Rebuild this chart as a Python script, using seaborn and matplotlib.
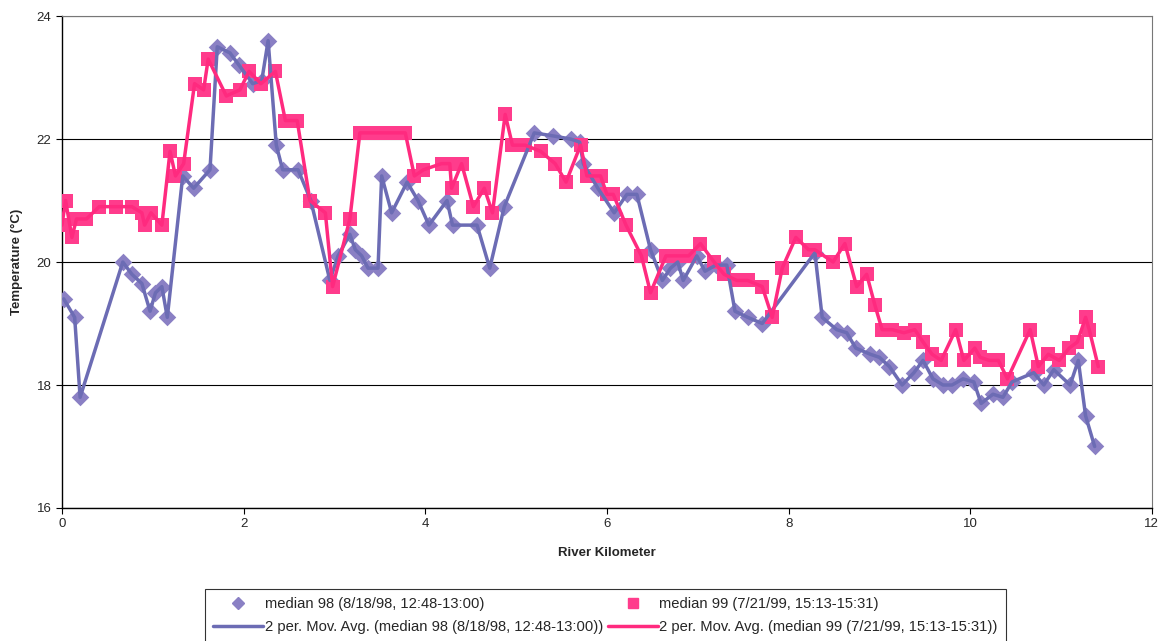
import matplotlib
matplotlib.use("Agg")
import matplotlib.pyplot as plt
import pandas as pd
import seaborn as sns
from matplotlib.lines import Line2D

# median 98 (8/18/98) - river km vs temperature
km_98 = [0.02, 0.14, 0.20, 0.67, 0.77, 0.88, 0.97, 1.03, 1.10, 1.16,
         1.33, 1.45, 1.63, 1.71, 1.85, 1.95, 2.10, 2.20, 2.27, 2.36,
         2.43, 2.60, 2.74, 2.95, 3.04, 3.17, 3.23, 3.30, 3.37, 3.48,
         3.52, 3.63, 3.80, 3.92, 4.04, 4.24, 4.30, 4.57, 4.71, 4.87,
         5.20, 5.41, 5.60, 5.70, 5.74, 5.90, 6.08, 6.22, 6.33, 6.48,
         6.61, 6.70, 6.78, 6.84, 6.99, 7.08, 7.20, 7.32, 7.41, 7.55,
         7.71, 8.29, 8.37, 8.53, 8.64, 8.74, 8.90, 9.00, 9.11, 9.25,
         9.38, 9.48, 9.59, 9.70, 9.80, 9.92, 10.04, 10.12, 10.25, 10.36,
         10.46, 10.70, 10.81, 10.92, 11.10, 11.19, 11.27, 11.37]
temp_98 = [19.4, 19.1, 17.8, 20.0, 19.8, 19.65, 19.2, 19.5, 19.6, 19.1,
           21.4, 21.2, 21.5, 23.5, 23.4, 23.2, 22.9, 22.95, 23.6, 21.9,
           21.5, 21.5, 21.0, 19.7, 20.1, 20.45, 20.2, 20.1, 19.9, 19.9,
           21.4, 20.8, 21.3, 21.0, 20.6, 21.0, 20.6, 20.6, 19.9, 20.9,
           22.1, 22.05, 22.0, 21.95, 21.6, 21.2, 20.8, 21.1, 21.1, 20.2,
           19.7, 19.9, 20.0, 19.7, 20.1, 19.85, 19.95, 19.95, 19.2, 19.1,
           19.0, 20.15, 19.1, 18.9, 18.85, 18.6, 18.5, 18.45, 18.3, 18.0,
           18.2, 18.4, 18.1, 18.0, 18.0, 18.1, 18.05, 17.7, 17.85, 17.8,
           18.05, 18.2, 18.0, 18.25, 18.0, 18.4, 17.5, 17.0]

# median 99 (7/21/99)
km_99 = [0.00, 0.04, 0.11, 0.16, 0.27, 0.41, 0.60, 0.77, 0.88, 0.91,
         0.98, 1.10, 1.19, 1.25, 1.34, 1.46, 1.56, 1.61, 1.81, 1.96,
         2.06, 2.19, 2.35, 2.46, 2.59, 2.73, 2.90, 2.98, 3.17, 3.28,
         3.38, 3.48, 3.58, 3.68, 3.78, 3.88, 3.98, 4.18, 4.27, 4.29,
         4.40, 4.53, 4.65, 4.74, 4.88, 4.96, 5.10, 5.27, 5.43, 5.55,
         5.71, 5.78, 5.93, 6.00, 6.07, 6.21, 6.38, 6.48, 6.65, 6.80,
         6.90, 7.03, 7.18, 7.29, 7.43, 7.55, 7.71, 7.82, 7.93, 8.08,
         8.22, 8.29, 8.49, 8.62, 8.75, 8.86, 8.95, 9.03, 9.14, 9.27,
         9.39, 9.48, 9.58, 9.68, 9.84, 9.93, 10.05, 10.11, 10.21, 10.31,
         10.41, 10.66, 10.75, 10.86, 10.98, 11.09, 11.18, 11.27, 11.31, 11.41]
temp_99 = [20.6, 21.0, 20.4, 20.7, 20.7, 20.9, 20.9, 20.9, 20.8, 20.6,
           20.8, 20.6, 21.8, 21.4, 21.6, 22.9, 22.8, 23.3, 22.7, 22.8,
           23.1, 22.9, 23.1, 22.3, 22.3, 21.0, 20.8, 19.6, 20.7, 22.1,
           22.1, 22.1, 22.1, 22.1, 22.1, 21.4, 21.5, 21.6, 21.6, 21.2,
           21.6, 20.9, 21.2, 20.8, 22.4, 21.9, 21.9, 21.8, 21.6, 21.3,
           21.9, 21.4, 21.4, 21.1, 21.1, 20.6, 20.1, 19.5, 20.1, 20.1,
           20.1, 20.3, 20.0, 19.8, 19.7, 19.7, 19.6, 19.1, 19.9, 20.4,
           20.2, 20.2, 20.0, 20.3, 19.6, 19.8, 19.3, 18.9, 18.9, 18.85,
           18.9, 18.7, 18.5, 18.4, 18.9, 18.4, 18.6, 18.45, 18.4, 18.4,
           18.1, 18.9, 18.3, 18.5, 18.4, 18.6, 18.7, 19.1, 18.9, 18.3]

label_98 = "median 98 (8/18/98, 12:48-13:00)"
label_99 = "median 99 (7/21/99, 15:13-15:31)"

purple_mk = "#8A80C4"
purple_ln = "#6C6CB4"
pink_mk = "#FF3C8C"
pink_ln = "#FF2A7F"

df98 = pd.DataFrame({"km": km_98, "temp": temp_98})
df99 = pd.DataFrame({"km": km_99, "temp": temp_99})

sns.set_style("white")
plt.rcParams["font.family"] = ["Liberation Sans", "DejaVu Sans"]

fig = plt.figure(figsize=(11.6, 6.41), dpi=100)
ax = fig.add_axes([0.0534, 0.2075, 0.9396, 0.7675])

sns.scatterplot(data=df98, x="km", y="temp", marker="D", s=80, color=purple_mk,
                edgecolor=purple_mk, linewidth=0, ax=ax, zorder=3)
sns.scatterplot(data=df99, x="km", y="temp", marker="s", s=110, color=pink_mk,
                edgecolor=pink_mk, linewidth=0, ax=ax, zorder=3)
sns.lineplot(data=df98, x="km", y="temp", sort=False, estimator=None,
             color=purple_ln, linewidth=2.5, ax=ax, zorder=4)
sns.lineplot(data=df99, x="km", y="temp", sort=False, estimator=None,
             color=pink_ln, linewidth=2.5, ax=ax, zorder=4)

ax.set_xlim(0, 12)
ax.set_ylim(16, 24)
ax.set_xticks(range(0, 13, 2))
ax.set_yticks(range(16, 25, 2))
ax.yaxis.grid(True, color="black", linewidth=0.8)
ax.xaxis.grid(False)
for side in ["left", "bottom"]:
    ax.spines[side].set_color("black")
    ax.spines[side].set_linewidth(1.0)
for side in ["top", "right"]:
    ax.spines[side].set_color("#777777")
    ax.spines[side].set_linewidth(0.8)
ax.tick_params(axis="both", labelsize=9.5, length=4, color="black", direction="out",
               left=True, bottom=True)
ax.set_xlabel("River Kilometer", fontsize=9.5, fontweight="bold", labelpad=12)
ax.set_ylabel("Temperature (°C)", fontsize=9.5, fontweight="bold", labelpad=10)

handles = [
    Line2D([], [], marker="D", linestyle="none", color=purple_mk, markersize=6),
    Line2D([], [], color=purple_ln, linewidth=2.5),
    Line2D([], [], marker="s", linestyle="none", color=pink_mk, markersize=7),
    Line2D([], [], color=pink_ln, linewidth=2.5),
]
labels = [label_98, "2 per. Mov. Avg. (" + label_98 + ")",
          label_99, "2 per. Mov. Avg. (" + label_99 + ")"]
leg = fig.legend(handles, labels, loc="upper left", bbox_to_anchor=(0.177, 0.081),
                 ncol=2, fontsize=10.6, frameon=True, fancybox=False,
                 edgecolor="black", handlelength=3.4, handletextpad=0.1,
                 columnspacing=0.3, borderpad=0.55, labelspacing=0.6,
                 borderaxespad=0)
leg.get_frame().set_linewidth(0.8)

fig.savefig("out.png", dpi=100)
